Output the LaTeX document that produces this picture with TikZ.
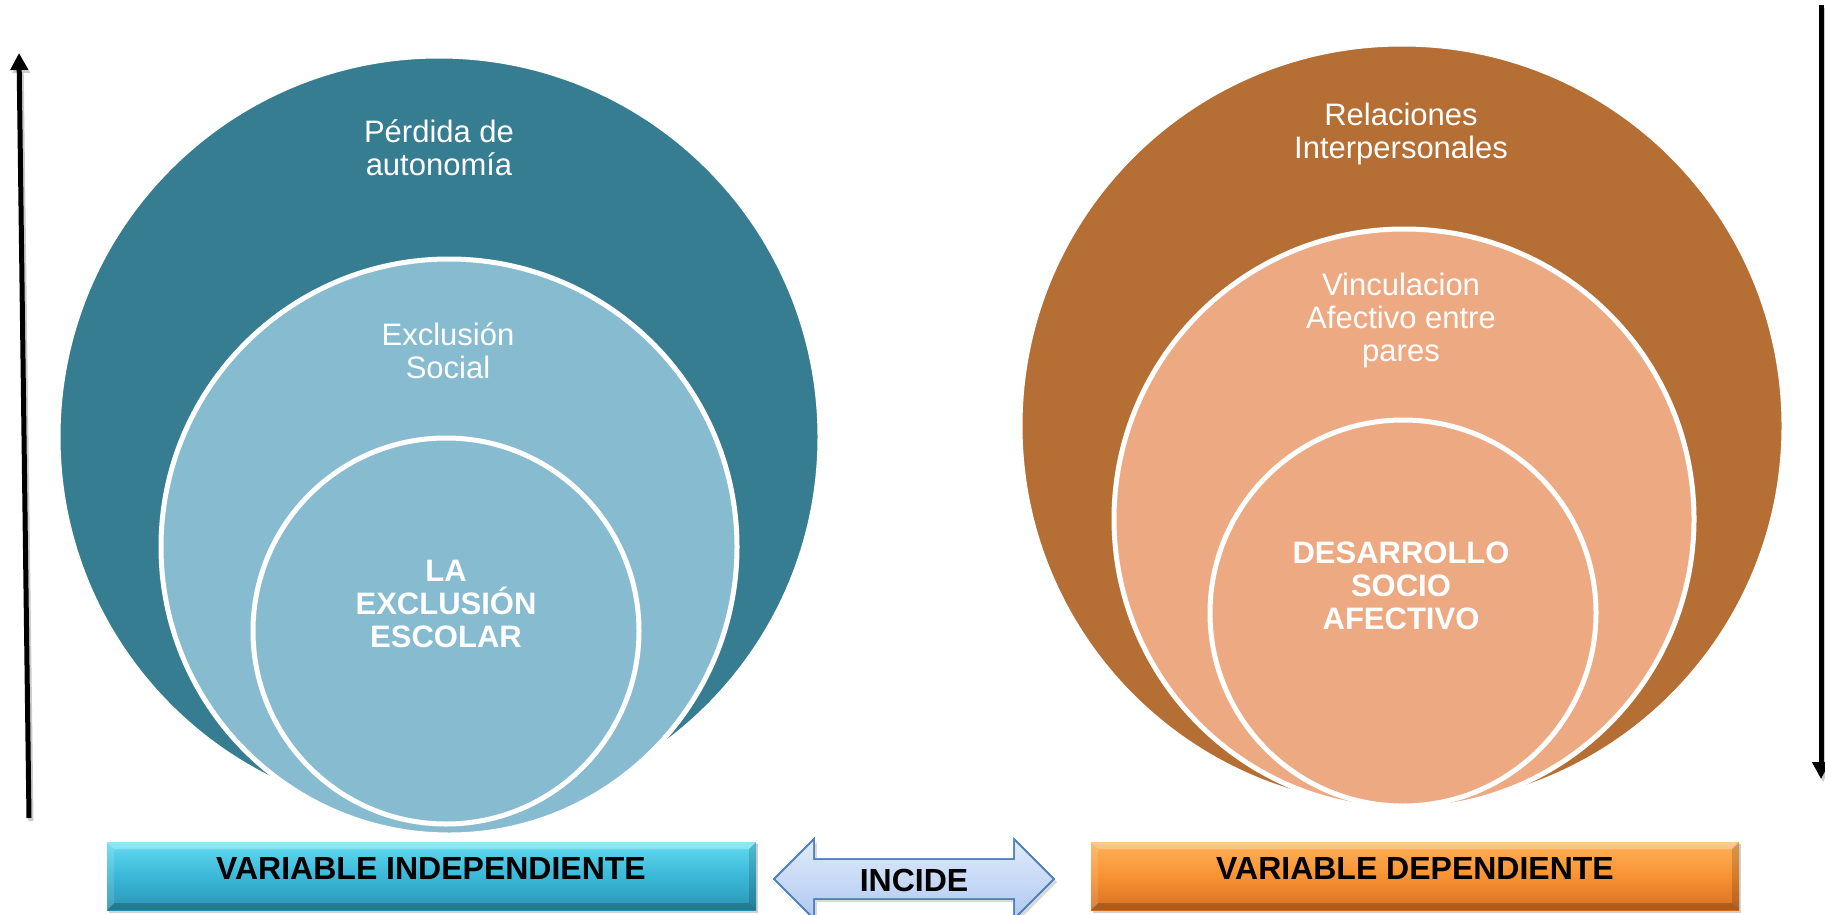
\documentclass[tikz,border=0pt]{standalone}
\usepackage{fontspec}
\setmainfont{Liberation Sans}
\usetikzlibrary{arrows.meta}
\definecolor{tealdark}{RGB}{54,125,145}
\definecolor{teallight}{RGB}{135,187,208}
\definecolor{browndark}{RGB}{181,110,51}
\definecolor{orangelight}{RGB}{237,169,130}
\definecolor{cyantop}{RGB}{100,220,242}
\definecolor{cyanmid}{RGB}{58,184,216}
\definecolor{cyanbot}{RGB}{44,148,178}
\definecolor{orgtop}{RGB}{255,178,90}
\definecolor{orgmid}{RGB}{248,146,50}
\definecolor{orgbot}{RGB}{214,112,34}
\definecolor{arrtop}{RGB}{224,235,252}
\definecolor{arrbot}{RGB}{176,201,240}
\definecolor{arredge}{RGB}{79,129,189}
\tikzset{
  ring/.style={circle, draw=white, line width=5pt, inner sep=0pt},
  ctext/.style={text=white, align=center, font=\fontsize{31}{33}\selectfont},
  cbold/.style={text=white, align=center, font=\fontsize{31}{33}\selectfont\bfseries},
  vbox/.style={rectangle, inner sep=0pt, minimum width=649pt, minimum height=68pt},
  vtext/.style={text=black, font=\fontsize{32}{34}\selectfont\bfseries},
  sidearrow/.style={line width=5pt, -{Triangle[width=17pt,length=17pt]}},
}
\begin{document}
\begin{tikzpicture}[x=1pt,y=-1pt]
\useasboundingbox (0,0) rectangle (1825,915);
\clip (0,0) rectangle (1825,915);
\fill[white] (0,0) rectangle (1825,915);

% ---- left nested circles
\node[ring, fill=tealdark, minimum size=762pt] (lbig) at (439,437) {};
\node[ring, fill=teallight, minimum size=576pt] (lmid) at (449,547) {};
\node[ring, fill=teallight, minimum size=386pt] (lin) at (446,631) {};
\node[ctext] (lt1) at (439,148) {Pérdida de\\autonomía};
\node[ctext] (lt2) at (448,351) {Exclusión\\Social};
\node[cbold] (lt3) at (446,604) {LA\\EXCLUSIÓN\\ESCOLAR};

% ---- right nested circles
\node[ring, fill=browndark, minimum size=764pt] (rbig) at (1402,426) {};
\node[ring, fill=orangelight, minimum size=580pt] (rmid) at (1404,519) {};
\node[ring, fill=orangelight, minimum size=386pt] (rin) at (1403,613) {};
\node[ctext] (rt1) at (1401,134) {Relaciones\\Interpersonales};
\node[ctext] (rt2) at (1401,320) {Vinculacion\\Afectivo entre\\pares};
\node[cbold] (rt3) at (1401,586) {DESARROLLO\\SOCIO\\AFECTIVO};

% ---- side arrows
\coordinate (la1) at (29,818);
\coordinate (la2) at (19,53);
\coordinate (la1s) at (31,821);
\coordinate (la2s) at (21,56);
\draw[sidearrow, black!20] (la1s) -- (la2s);
\draw[sidearrow] (la1) -- (la2);
\coordinate (ra1) at (1821,5);
\coordinate (ra2) at (1821,779);
\coordinate (ra1s) at (1823,8);
\coordinate (ra2s) at (1823,782);
\draw[sidearrow, black!20] (ra1s) -- (ra2s);
\draw[sidearrow] (ra1) -- (ra2);

% ---- left box
\fill[black!18] (109,844) rectangle (758,913);
\node[vbox, top color=cyantop, bottom color=cyanbot, middle color=cyanmid] (vi) at (431.5,876) {};
\fill[white, opacity=0.3] (107,842) -- (756,842) -- (749,849) -- (114,849) -- cycle;
\fill[black, opacity=0.2] (107,910) -- (756,910) -- (749,903) -- (114,903) -- cycle;
\fill[white, opacity=0.12] (107,842) -- (114,849) -- (114,903) -- (107,910) -- cycle;
\fill[black, opacity=0.15] (756,842) -- (749,849) -- (749,903) -- (756,910) -- cycle;
\node[vtext] (vit) at (431,868) {VARIABLE INDEPENDIENTE};

% ---- right box
\fill[black!18] (1093,844) rectangle (1741,913);
\node[vbox, minimum width=648pt, top color=orgtop, bottom color=orgbot, middle color=orgmid] (vd) at (1415,876) {};
\fill[white, opacity=0.3] (1091,842) -- (1739,842) -- (1732,849) -- (1098,849) -- cycle;
\fill[black, opacity=0.2] (1091,910) -- (1739,910) -- (1732,903) -- (1098,903) -- cycle;
\fill[white, opacity=0.12] (1091,842) -- (1098,849) -- (1098,903) -- (1091,910) -- cycle;
\fill[black, opacity=0.15] (1739,842) -- (1732,849) -- (1732,903) -- (1739,910) -- cycle;
\node[vtext] (vdt) at (1415,868) {VARIABLE DEPENDIENTE};

% ---- double arrow INCIDE
\fill[black!15] (777,882) -- (817,842) -- (817,862) -- (1017,862) -- (1017,842) -- (1057,882) -- (1017,922) -- (1017,902) -- (817,902) -- (817,922) -- cycle;
\shade[top color=arrtop, bottom color=arrbot, draw=arredge, line width=1.5pt, line join=miter]
  (774,879) -- (814,839) -- (814,859) -- (1014,859) -- (1014,839) -- (1054,879) -- (1014,919) -- (1014,899) -- (814,899) -- (814,919) -- cycle;
\draw[arredge, line width=1.5pt, line join=miter]
  (774,879) -- (814,839) -- (814,859) -- (1014,859) -- (1014,839) -- (1054,879) -- (1014,919) -- (1014,899) -- (814,899) -- (814,919) -- cycle;
\node[vtext] (inc) at (914,880) {INCIDE};
\end{tikzpicture}
\end{document}
